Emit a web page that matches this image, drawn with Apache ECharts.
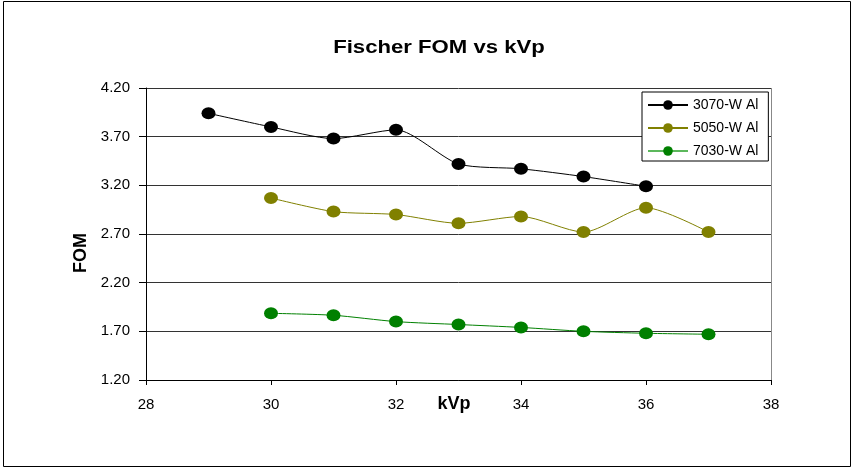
<!DOCTYPE html>
<html><head><meta charset="utf-8">
<script src="https://cdn.jsdelivr.net/npm/echarts@6/dist/echarts.min.js"></script>
<style>html,body{margin:0;padding:0;background:#fff}#c{width:853px;height:469px}</style>
</head><body><div id="c"></div>
<script>
const kvpA = [29, 30, 31, 32, 33, 34, 35, 36];
const fom3070 = [3.94, 3.80, 3.68, 3.77, 3.42, 3.37, 3.29, 3.19];
const kvpB = [30, 31, 32, 33, 34, 35, 36, 37];
const fom5050 = [3.07, 2.93, 2.90, 2.81, 2.88, 2.72, 2.97, 2.72];
const fom7030 = [1.885, 1.865, 1.80, 1.77, 1.74, 1.70, 1.68, 1.67];
const seriesNames = ['3070-W Al', '5050-W Al', '7030-W Al'];
const colors = ['#000000', '#808000', '#008000'];
const titleText = 'Fischer FOM vs kVp';

const pair = (xs, ys) => xs.map((x, i) => [x, ys[i]]);
const font = 'Liberation Sans, Arial, sans-serif';
const chart = echarts.init(document.getElementById('c'), null, {renderer: 'canvas'});
const mk = (name, data, color) => ({
  name, type: 'line', data, smooth: 0.25,
  symbol: 'circle', symbolSize: [14, 12],
  lineStyle: {color, width: 1},
  itemStyle: {color},
  emphasis: {disabled: true}
});
chart.setOption({
  animation: false,
  graphic: [{
    type: 'rect', shape: {x: 3.5, y: 1.5, width: 847, height: 465},
    style: {fill: 'none', stroke: '#000', lineWidth: 1}, z: 0
  }, {
    type: 'line', shape: {x1: 771.5, y1: 88, x2: 771.5, y2: 380},
    style: {stroke: '#888', lineWidth: 1}, z: 1
  }, {
    type: 'text', x: 439, y: 48, scaleX: 1.23,
    style: {text: titleText, font: 'bold 18px ' + font, fill: '#000', textAlign: 'center', textVerticalAlign: 'middle'},
    z: 5
  }],
  legend: {
    orient: 'vertical', left: 642, top: 92,
    backgroundColor: '#fff', borderColor: '#000', borderWidth: 1,
    padding: [6, 10, 3, 5], itemGap: 9, itemWidth: 40, itemHeight: 12,
    textStyle: {fontFamily: font, fontSize: 14, color: '#000', padding: [0, 0, 0, 0]},
    data: [seriesNames[0], seriesNames[1], {name: seriesNames[2], lineStyle: {color: '#5cb85c'}}]
  },
  grid: {left: 146, right: 82, top: 88, bottom: 89},
  xAxis: {
    type: 'value', min: 28, max: 38, interval: 2,
    name: 'kVp', nameLocation: 'middle', nameGap: 15, nameMoveOverlap: false,
    nameTextStyle: {fontFamily: font, fontSize: 18, fontWeight: 'bold', color: '#000', padding: [0, 9, 0, 0]},
    axisLine: {lineStyle: {color: '#000', width: 1}},
    axisTick: {show: true, length: 5, lineStyle: {color: '#000'}},
    axisLabel: {fontFamily: font, fontSize: 15, color: '#000', margin: 17},
    splitLine: {show: false}
  },
  yAxis: {
    type: 'value', min: 1.2, max: 4.2, interval: 0.5,
    name: 'FOM', nameLocation: 'middle', nameGap: 56, nameRotate: 90, nameMoveOverlap: false,
    nameTextStyle: {fontFamily: font, fontSize: 18, fontWeight: 'bold', color: '#000', padding: [0, 38, 0, 0]},
    axisLine: {show: true, lineStyle: {color: '#000', width: 1}},
    axisTick: {show: true, length: 7, lineStyle: {color: '#000'}},
    axisLabel: {fontFamily: font, fontSize: 15, color: '#000', margin: 16, formatter: v => v.toFixed(2)},
    splitLine: {show: true, lineStyle: {color: '#333', width: 1}}
  },
  series: [
    mk(seriesNames[0], pair(kvpA, fom3070), colors[0]),
    mk(seriesNames[1], pair(kvpB, fom5050), colors[1]),
    mk(seriesNames[2], pair(kvpB, fom7030), colors[2])
  ]
});
</script></body></html>
